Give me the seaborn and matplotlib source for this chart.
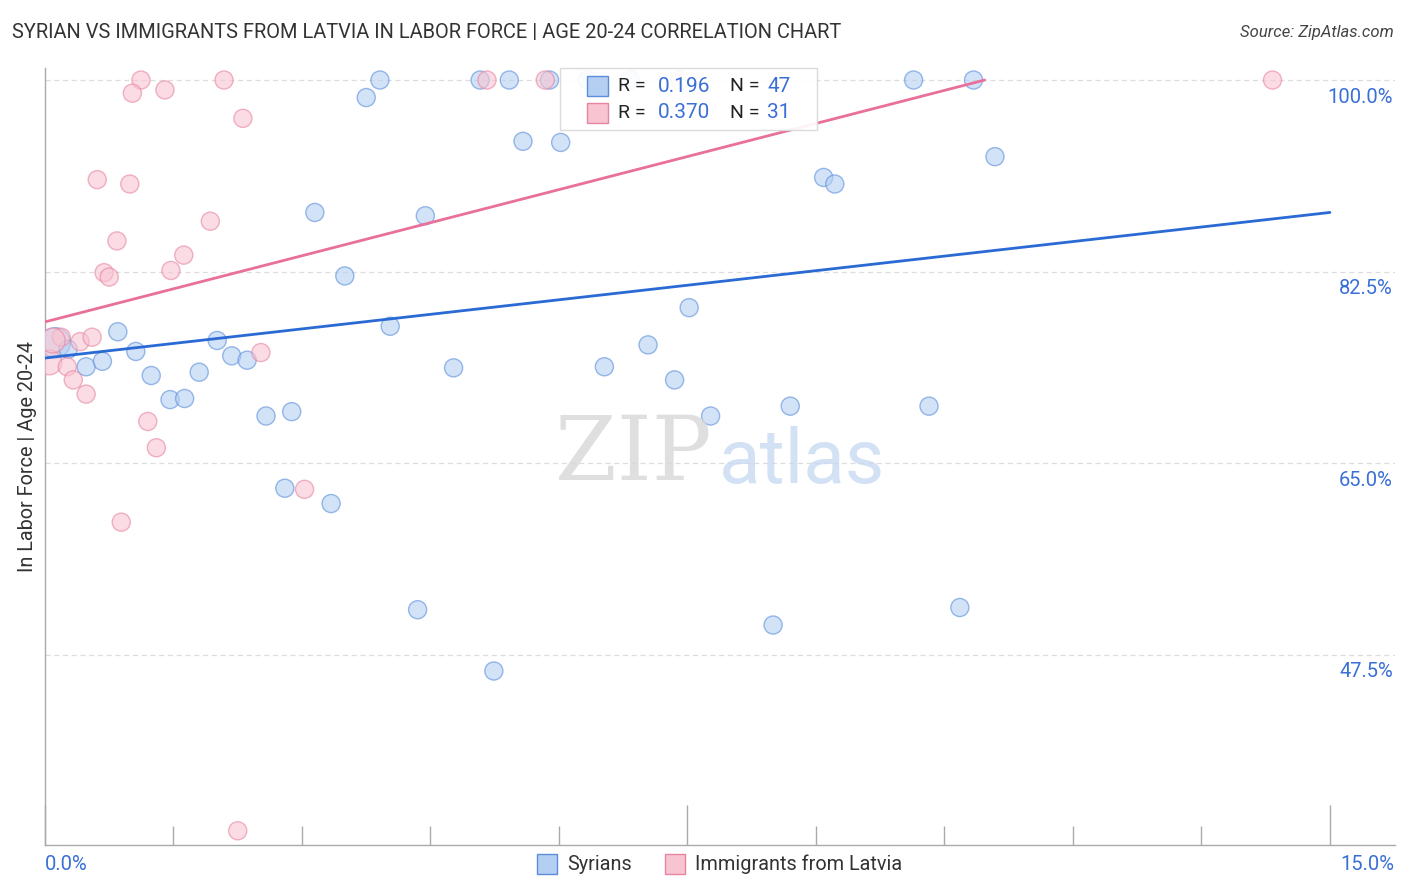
import numpy as np
import pandas as pd
import seaborn as sns
import matplotlib.pyplot as plt
from matplotlib.patches import Rectangle

# ================================
# Data
# ================================
syr_x = [0.12, 0.27, 0.48, 0.67, 0.85, 1.06, 1.24, 1.46, 1.63, 1.80, 2.01, 2.18,
         2.36, 2.58, 2.88, 2.80, 3.34, 3.15, 3.50, 3.75, 3.91, 4.03, 4.35, 4.44,
         4.77, 5.08, 5.24, 5.42, 5.58, 5.89, 6.02, 6.33, 6.53, 6.83, 7.04, 7.35,
         7.52, 7.77, 8.50, 8.70, 9.09, 9.22, 10.14, 10.32, 10.68, 10.84, 11.09]
syr_y = [76.0, 75.4, 73.8, 74.3, 77.0, 75.2, 73.0, 70.8, 70.9, 73.3, 76.2, 74.8,
         74.4, 69.3, 69.7, 62.7, 61.3, 87.9, 82.1, 98.4, 100.0, 77.5, 51.6, 87.6,
         73.7, 100.0, 46.0, 100.0, 94.4, 100.0, 94.3, 100.0, 73.8, 100.0, 75.8, 72.6,
         79.2, 69.3, 50.2, 70.2, 91.1, 90.5, 100.0, 70.2, 51.8, 100.0, 93.0]
syr_w = [3] + [1] * 46

lat_x = [1.12, 2.09, 1.02, 1.40, 2.31, 0.61, 0.99, 1.93, 0.84, 1.62, 0.69, 0.75,
         1.47, 0.19, 0.41, 0.55, 2.52, 0.05, 0.09, 0.26, 0.33, 0.48, 1.20, 1.30,
         0.89, 3.03, 2.25, 5.16, 5.84, 7.41, 14.33]
lat_y = [100.0, 100.0, 98.8, 99.1, 96.5, 90.9, 90.5, 87.1, 85.3, 84.0, 82.4, 82.0,
         82.6, 76.5, 76.1, 76.5, 75.1, 74.2, 76.2, 73.8, 72.6, 71.3, 68.8, 66.4,
         59.6, 62.6, 31.4, 100.0, 100.0, 100.0, 100.0]
lat_w = [1] * 17 + [2.2, 2.2] + [1] * 12

# trend lines (value at start / end)
syr_trend_x = [0.0, 15.0]
syr_trend_y = [74.6, 87.9]
lat_trend_x = [0.0, 10.97]
lat_trend_y = [77.9, 100.0]

y_ticks = [100.0, 82.5, 65.0, 47.5]
y_labels = ['100.0%', '82.5%', '65.0%', '47.5%']

syr = pd.DataFrame({'x': syr_x, 'y': syr_y, 'w': syr_w})
lat = pd.DataFrame({'x': lat_x, 'y': lat_y, 'w': lat_w})

# ================================
# Plot
# ================================
sns.set_style('white')
plt.rcParams['font.family'] = ['Roboto', 'DejaVu Sans']

W, H = 1406, 892
fig = plt.figure(figsize=(W / 100, H / 100), dpi=100)
ax = fig.add_axes([45 / W, 1 - 845 / H, (1395 - 45) / W, (845 - 68) / H])

def fx(px):
    return px / W

def fy(py):
    return 1 - py / H

BLUE_FACE, BLUE_EDGE, BLUE_LINE = '#b4cff2', '#5a8edb', '#2a6ad4'
PINK_FACE, PINK_EDGE, PINK_LINE = '#f9c4d2', '#e6859f', '#e8709a'
TICK_BLUE = '#3a6fd6'

for yv in y_ticks:
    ax.axhline(yv, color='#dddddd', lw=0.9, ls=(0, (4, 3)), zorder=0)

sns.scatterplot(data=syr, x='x', y='y', size='w', sizes=(170, 470), legend=False,
                color=BLUE_FACE, edgecolor=BLUE_EDGE, linewidth=1.0, alpha=0.6,
                ax=ax, zorder=3)
sns.scatterplot(data=lat, x='x', y='y', size='w', sizes=(170, 320), legend=False,
                color=PINK_FACE, edgecolor=PINK_EDGE, linewidth=1.0, alpha=0.6,
                ax=ax, zorder=3)

sns.lineplot(x=syr_trend_x, y=syr_trend_y, color=BLUE_LINE, lw=2, ax=ax, zorder=4)
sns.lineplot(x=lat_trend_x, y=lat_trend_y, color=PINK_LINE, lw=2, ax=ax, zorder=4)

ax.set_xlim(0, 15.76)
ax.set_ylim(30.1, 101.1)
ax.set_xlabel('')
ax.set_ylabel('')
ax.set_yticks([])
ax.set_xticks([0, 7.5, 15])
ax.set_xticks([1.5, 3, 4.5, 6, 9, 10.5, 12, 13.5], minor=True)
ax.tick_params(axis='x', which='major', direction='in', length=29, color='#aaaaaa',
               bottom=True, labelbottom=False, width=1)
ax.tick_params(axis='x', which='minor', direction='in', length=14, color='#aaaaaa',
               bottom=True, labelbottom=False, width=1)
for s in ['top', 'right']:
    ax.spines[s].set_visible(False)
for s in ['left', 'bottom']:
    ax.spines[s].set_color('#aaaaaa')
    ax.spines[s].set_linewidth(1)

# right-side y labels, a bit below each grid line
for yv, lab in zip(y_ticks, y_labels):
    ax.annotate(lab, xy=(1.0, yv), xycoords=('axes fraction', 'data'),
                xytext=(-2, -17), textcoords='offset pixels',
                ha='right', va='center', color=TICK_BLUE, fontsize=14.5)

fig.text(fx(45), fy(864), '0.0%', ha='left', va='center', color=TICK_BLUE, fontsize=14.5)
fig.text(fx(1394), fy(864), '15.0%', ha='right', va='center', color=TICK_BLUE, fontsize=14.5)

fig.text(fx(28), fy(457), 'In Labor Force | Age 20-24', rotation=90,
         ha='center', va='center', color='#333333', fontsize=14.3)

fig.text(fx(12), fy(33), 'SYRIAN VS IMMIGRANTS FROM LATVIA IN LABOR FORCE | AGE 20-24 CORRELATION CHART',
         ha='left', va='center', color='#333333', fontsize=14.4)
fig.text(fx(1394), fy(33), 'Source: ZipAtlas.com', ha='right', va='center',
         color='#444444', fontsize=12, style='italic')

# watermark
fig.text(fx(633), fy(455), 'ZIP', ha='center', va='center', fontsize=64,
         family='DejaVu Serif', color='#d8d8d8', alpha=0.8, zorder=0)
fig.text(fx(802), fy(462), 'atlas', ha='center', va='center', fontsize=55,
         color='#c9daf3', alpha=0.8, zorder=0)

# stats box
box = Rectangle((fx(560), fy(130)), fx(817) - fx(560), fy(68) - fy(130),
                transform=fig.transFigure, facecolor='white', edgecolor='#d8d8d8',
                lw=1, alpha=0.92, zorder=5)
fig.patches.append(box)
rows = [(86, BLUE_FACE, BLUE_EDGE, '0.196', '47'), (113, PINK_FACE, PINK_EDGE, '0.370', '31')]
for py, fc, ec, r, n in rows:
    fig.patches.append(Rectangle((fx(587), fy(py + 10)), fx(21), fy(0) - fy(20),
                                 transform=fig.transFigure, facecolor=fc,
                                 edgecolor=ec, lw=1, zorder=6))
    fig.text(fx(618), fy(py), 'R =', ha='left', va='center', fontsize=14, color='#222222', zorder=7)
    fig.text(fx(710), fy(py), r, ha='right', va='center', fontsize=15, color=TICK_BLUE, zorder=7)
    fig.text(fx(730), fy(py), 'N =', ha='left', va='center', fontsize=14, color='#222222', zorder=7)
    fig.text(fx(791), fy(py), n, ha='right', va='center', fontsize=15, color=TICK_BLUE, zorder=7)

# bottom legend
for px, fc, ec, lab in [(537, BLUE_FACE, BLUE_EDGE, 'Syrians'),
                        (665, PINK_FACE, PINK_EDGE, 'Immigrants from Latvia')]:
    fig.patches.append(Rectangle((fx(px), fy(874)), fx(20), fy(0) - fy(20),
                                 transform=fig.transFigure, facecolor=fc,
                                 edgecolor=ec, lw=1))
    fig.text(fx(px + 30), fy(864), lab, ha='left', va='center', fontsize=14.3, color='#333333')

fig.savefig('out.png', dpi=100)
